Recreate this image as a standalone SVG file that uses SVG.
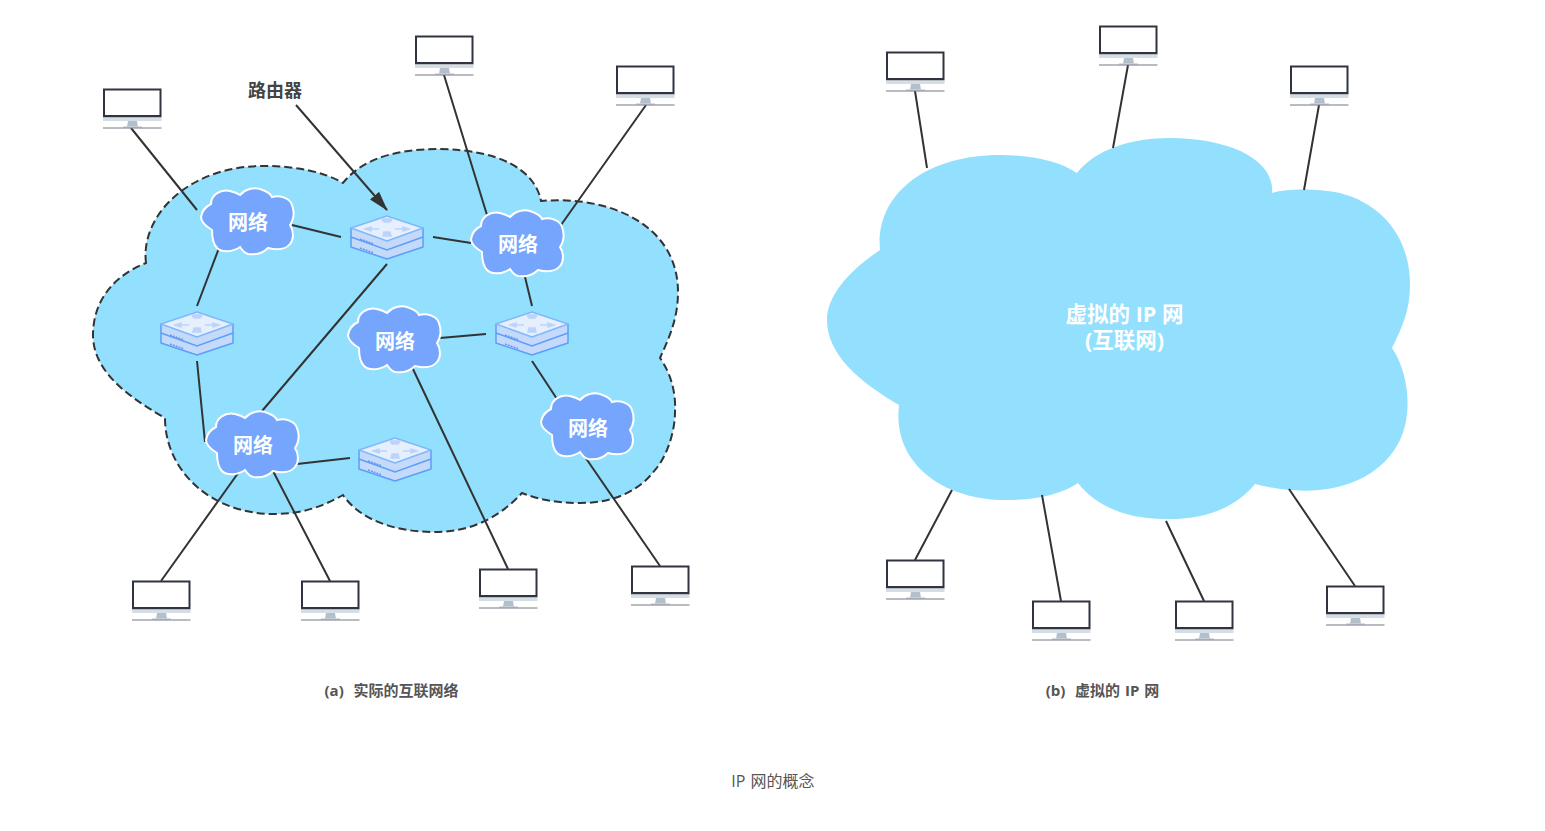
<svg xmlns="http://www.w3.org/2000/svg" width="1545" height="831" viewBox="0 0 1545 831">
<style>
text{font-family:"Open Sans","Noto Sans CJK SC",sans-serif;text-anchor:middle}
.b{font-weight:700}
.cap{font-size:15px;font-weight:700;fill:#555;white-space:pre;word-spacing:1px}
.lbl{font-size:20px;font-weight:700;fill:#fff}
.big{font-size:21.500px;font-weight:700;fill:#fff}
.ln{stroke:#333;stroke-width:2;fill:none}
</style>
<defs>
<marker id="ah" markerUnits="userSpaceOnUse" markerWidth="20" markerHeight="14" refX="19" refY="7" orient="auto"><path d="M0,1L20,7L0,13Z" fill="#333"/></marker>
<g id="pc">
<rect x="0" y="-0.500" width="58.500" height="29" fill="#2f3440"/>
<rect x="2" y="1.500" width="54.500" height="24.500" fill="#fff"/>
<rect x="0" y="28.500" width="58.500" height="3.500" fill="#d5dde5"/>
<path d="M25,32h9l1,6h-11z" fill="#b3bfca"/>
<path d="M20,38h19" stroke="#ccd5dd" stroke-width="1.500"/>
<path d="M0,39h58.500" stroke="#778" stroke-width="1"/>
</g>
<g id="rt">
<path d="M-36,-9 V10 L0,22 L36,10 V-9 Z" fill="#c5d9fb" stroke="#5a9ffa" stroke-width="1.500" stroke-linejoin="round"/>
<path d="M-36,0 L0,13 L36,0" fill="none" stroke="#5a9ffa" stroke-width="1.500"/>
<path d="M-36,-9 L0,-21 L36,-9 L0,4Z" fill="#e6effd" stroke="#7fb8fb" stroke-width="1.500" stroke-linejoin="round"/>
<path d="M-3,-15h6l2,-3h-10zM-4,-1h8l-1,-4h-6zM-22,-8l6,-2v4zM22,-8l-6,-2v4zM-16,-8h8M8,-8h8" fill="#bcd4fb" stroke="#bcd4fb" stroke-width="1.500"/>
<path d="M-27,2l13,4.500M-27,11l13,4.500" stroke="#6b98e0" stroke-width="1.500" stroke-dasharray="2 1" fill="none"/>
</g>
<path id="cl" d="M-47,-5 C-46,-12 -41,-16 -37,-18 C-37,-27 -28,-33 -18,-31 C-14,-30 -11,-29 -8,-27 C-3,-33 6,-35 12,-33 C18,-31 23,-28 24,-25 C32,-27 42,-24 44,-17 C47,-9 46,-3 42,3 C46,9 46,17 42,22 C37,28 28,28 20,26 C15,31 7,33 0,32 C-4,31 -6,28 -8,25 C-15,30 -26,31 -31,26 C-35,22 -36,15 -36,8 C-41,5 -47,1 -47,-5Z" fill="#76a5fd" stroke="#fff" stroke-width="2"/>
</defs>

<g id="cloud-a"><path d="M146,263 C140,215 190,165 265,166 C295,166 325,172 343,183 C365,155 405,149 440,149 C500,150 535,170 541,201 C610,195 678,225 678,292 C678,320 668,340 660,358 C672,375 676,395 675,412 C675,430 668,455 655,470 C640,490 615,503 580,503 C558,503 540,500 522,493 C495,522 465,532 435,532 C395,532 360,520 343,495 C320,508 300,514 274,514 C210,514 165,470 165,418 C125,395 93,370 93,335 C93,300 115,275 146,263Z" fill="#92dffe" stroke="#333" stroke-width="2" stroke-dasharray="8 4"/></g>
<g id="cloud-b"><path d="M880,250 C875,195 925,155 1000,155 C1035,155 1060,162 1077,173 C1095,150 1130,138 1170,138 C1230,138 1275,160 1272,193 C1290,188 1320,189 1340,193 C1385,205 1410,240 1410,285 C1410,310 1402,328 1392,348 C1410,375 1412,415 1400,440 C1380,482 1325,502 1255,484 C1235,508 1205,520 1165,519 C1125,519 1095,505 1078,483 C1060,495 1035,500 1005,500 C945,500 892,465 899,405 C860,382 827,355 827,320 C827,295 850,270 880,250Z" fill="#92dffe"/></g>

<g id="connectors" class="ln">
<path d="M131,128L197,210M444,75L487,215M646,105L561,225M292,225L341,237M433,237L471,243M219,248L197,306M387,264L262,411M525,277L532,306M440,338L486,334M197,361L205,442M297,464L350,458M532,361L557,399M412,367L508,569M583,454L660,566M241,469L161,581M273,471L330,581"/>
<path d="M296,105L387,210" marker-end="url(#ah)"/>
<path d="M915,91L927,168M1128,65L1113,148M1319,105L1304,190M952,490L915,560M1042,495L1061,601M1166,521L1204,601M1289,489L1355,586"/>
</g>

<g id="pc1"><use href="#pc" x="103" y="89"/></g>
<g id="pc2"><use href="#pc" x="415" y="36"/></g>
<g id="pc3"><use href="#pc" x="616" y="66"/></g>
<g id="pc4"><use href="#pc" x="132" y="581"/></g>
<g id="pc5"><use href="#pc" x="301" y="581"/></g>
<g id="pc6"><use href="#pc" x="479" y="569"/></g>
<g id="pc7"><use href="#pc" x="631" y="566"/></g>
<g id="pc8"><use href="#pc" x="886" y="52"/></g>
<g id="pc9"><use href="#pc" x="1099" y="26"/></g>
<g id="pc10"><use href="#pc" x="1290" y="66"/></g>
<g id="pc11"><use href="#pc" x="886" y="560"/></g>
<g id="pc12"><use href="#pc" x="1032" y="601"/></g>
<g id="pc13"><use href="#pc" x="1175" y="601"/></g>
<g id="pc14"><use href="#pc" x="1326" y="586"/></g>

<g id="r1"><use href="#rt" x="387" y="237"/></g>
<g id="r2"><use href="#rt" x="197" y="333"/></g>
<g id="r3"><use href="#rt" x="532" y="333"/></g>
<g id="r4"><use href="#rt" x="395" y="459"/></g>

<g id="n1"><use href="#cl" x="248" y="222"/><text class="lbl" x="248" y="230">网络</text></g>
<g id="n2"><use href="#cl" x="518" y="244"/><text class="lbl" x="518" y="252">网络</text></g>
<g id="n3"><use href="#cl" x="395" y="340"/><text class="lbl" x="395" y="349">网络</text></g>
<g id="n4"><use href="#cl" x="253" y="445"/><text class="lbl" x="253" y="453">网络</text></g>
<g id="n5"><use href="#cl" x="588" y="427"/><text class="lbl" x="588" y="436">网络</text></g>

<text class="b" x="275" y="97" font-size="18" fill="#444">路由器</text>
<text class="big" x="1124.500" y="322">虚拟的 IP 网</text>
<text class="big" x="1124.500" y="348">(互联网)</text>
<text class="cap" x="391.500" y="696">(a)  实际的互联网络</text>
<text class="cap" x="1102.500" y="696">(b)  虚拟的 IP 网</text>
<text x="773" y="787" font-size="16" fill="#555" word-spacing="1">IP 网的概念</text>
</svg>
